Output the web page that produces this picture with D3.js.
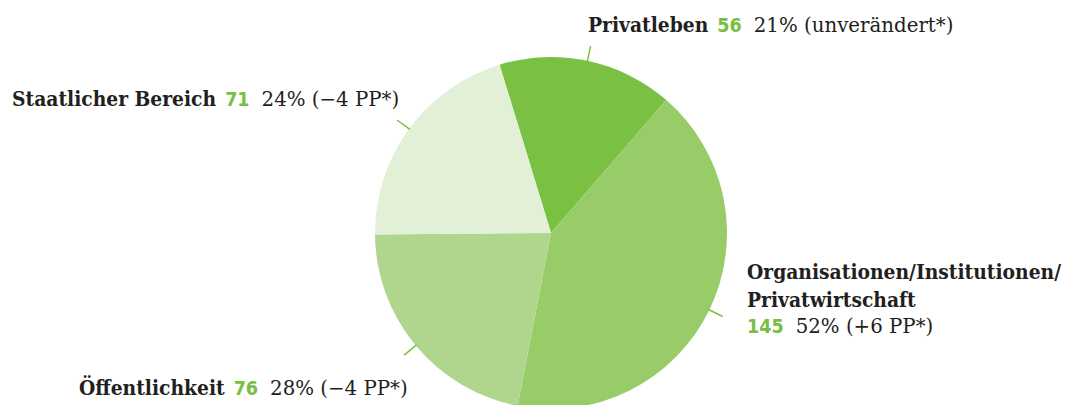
<!DOCTYPE html>
<html><head><meta charset="utf-8">
<script src="https://cdn.jsdelivr.net/npm/d3@7"></script>
<style>
body{margin:0;background:#fff;}
svg{display:block;}
.nm{font-family:"DejaVu Serif Condensed","DejaVu Serif";font-weight:bold;fill:#231f20;font-size:20.8px;}
.num{font-family:"DejaVu Sans Condensed","DejaVu Sans";font-weight:bold;fill:#76bf43;font-size:19.5px;}
.pct{font-family:"DejaVu Serif";fill:#231f20;font-size:19.8px;}
</style></head><body>
<script>
const categories = ["Privatleben", "Organisationen/Institutionen/Privatwirtschaft", "Öffentlichkeit", "Staatlicher Bereich"];
const values = [56, 145, 76, 71];
const percentLabels = ["21% (unverändert*)", "52% (+6 PP*)", "28% (−4 PP*)", "24% (−4 PP*)"];
const colors = ["#7ac143", "#97cc68", "#afd68c", "#e3f0d8"];

const W = 1075, H = 405;
const cx = 551, cy = 233, R = 176;
const startDeg = -17;

const svg = d3.select("body").append("svg").attr("width", W).attr("height", H);
const g = svg.append("g").attr("transform", `translate(${cx},${cy})`);

const pie = d3.pie().sort(null).value(d => d)
  .startAngle(startDeg * Math.PI / 180)
  .endAngle(startDeg * Math.PI / 180 + 2 * Math.PI);
const arcs = pie(values);
const arc = d3.arc().innerRadius(0).outerRadius(R);

g.selectAll("path.slice").data(arcs).join("path")
  .attr("class", "slice")
  .attr("d", arc)
  .attr("fill", (d, i) => colors[i]);

// leader lines
const inner = d3.arc().innerRadius(R - 1).outerRadius(R - 1);
const outer = d3.arc().innerRadius(R + 15).outerRadius(R + 15);
g.selectAll("line.lead").data(arcs).join("line")
  .attr("class", "lead")
  .attr("x1", d => inner.centroid(d)[0]).attr("y1", d => inner.centroid(d)[1])
  .attr("x2", d => outer.centroid(d)[0]).attr("y2", d => outer.centroid(d)[1])
  .attr("stroke", "#7ac143").attr("stroke-width", 1.5);

function label(x, y, name, num, pct) {
  const t = svg.append("text").attr("x", x).attr("y", y);
  t.append("tspan").attr("class", "nm").text(name);
  t.append("tspan").attr("class", "num").attr("dx", 9).text(num);
  t.append("tspan").attr("class", "pct").attr("dx", 12).text(pct);
}
label(588, 32, categories[0], values[0], percentLabels[0]);
label(12, 106, categories[3], values[3], percentLabels[3]);
label(79, 395, categories[2], values[2], percentLabels[2]);

// multi-line organisation label
const orgParts = ["Organisationen/Institutionen/", "Privatwirtschaft"];
svg.append("text").attr("class", "nm").attr("x", 747).attr("y", 279).text(orgParts[0]);
svg.append("text").attr("class", "nm").attr("x", 747).attr("y", 307).text(orgParts[1]);
const t2 = svg.append("text").attr("x", 747).attr("y", 333);
t2.append("tspan").attr("class", "num").text(values[1]);
t2.append("tspan").attr("class", "pct").attr("dx", 12).text(percentLabels[1]);
</script>
</body></html>
